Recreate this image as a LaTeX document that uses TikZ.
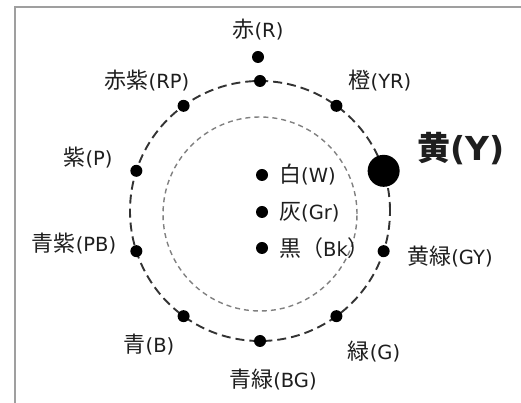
\documentclass[tikz,border=0pt]{standalone}
\usepackage{fontspec}
\setmainfont{DejaVu Sans}
\newfontfamily\cjk{Noto Sans CJK JP}
\newfontfamily\latf{DejaVu Sans}
\usetikzlibrary{calc}
\definecolor{txt}{HTML}{1E1E1E}
\tikzset{
  lbl/.style={font=\fontsize{22}{22}\selectfont, text=txt, inner sep=0pt},
  ylbl/.style={font=\bfseries\fontsize{33}{33}\selectfont, text=txt, inner sep=0pt},
  dotnode/.style={circle, fill=black, inner sep=0pt, minimum size=12pt},
  bigdot/.style={circle, fill=black, inner sep=0pt, minimum size=32pt},
}
\newcommand\kj[1]{{\cjk #1}}
\newcommand\lt[1]{{\latf\fontsize{19.5}{19.5}\selectfont #1}}
\begin{document}
\begin{tikzpicture}[x=1pt,y=1pt]
\useasboundingbox (0,0) rectangle (521,403);
\fill[white] (0,0) rectangle (521,403);
% frame
\draw[gray!75, line width=1.5pt] (521,396) -- (15,396) -- (15,0);
% circles
\coordinate (c) at (260,192);
\coordinate (ci) at (260,189);
\draw[black!50, line width=1.4pt, dash pattern=on 5pt off 4pt] (ci) circle [radius=97pt];
\draw[black!80, line width=1.9pt, dash pattern=on 9pt off 5pt] (c) circle [radius=130pt];
% hue dots
\node[dotnode] (dR)  at ($(c)+(90:130pt)$) {};
\node[dotnode] (dYR) at ($(c)+(54:130pt)$) {};
\node[bigdot]  (dY)  at ($(c)+(18:130pt)$) {};
\node[dotnode] (dGY) at ($(c)+(-18:130pt)$) {};
\node[dotnode] (dG)  at ($(c)+(-54:130pt)$) {};
\node[dotnode] (dBG) at ($(c)+(-90:130pt)$) {};
\node[dotnode] (dB)  at ($(c)+(-126:130pt)$) {};
\node[dotnode] (dPB) at ($(c)+(-162:130pt)$) {};
\node[dotnode] (dP)  at ($(c)+(162:130pt)$) {};
\node[dotnode] (dRP) at ($(c)+(126:130pt)$) {};
\node[dotnode] (dR2) at (258,346) {};
% achromatic dots
\node[dotnode] (dW)  at (262,228) {};
\node[dotnode] (dGr) at (262,191) {};
\node[dotnode] (dBk) at (262,155) {};
% labels
\node[lbl] (lR)  at (258,373) {\kj{赤}\lt{(R)}};
\node[lbl] (lRP) at (147,322) {\kj{赤紫}\lt{(RP)}};
\node[lbl] (lYR) at (380,322) {\kj{橙}\lt{(YR)}};
\node[ylbl] (lY) at (461,254) {\kj{黄}(Y)};
\node[lbl] (lP)  at (88,245) {\kj{紫}\lt{(P)}};
\node[lbl] (lPB) at (74,159) {\kj{青紫}\lt{(PB)}};
\node[lbl] (lGY) at (450,146) {\kj{黄緑}\lt{(GY)}};
\node[lbl] (lB)  at (149,58) {\kj{青}\lt{(B)}};
\node[lbl] (lG)  at (374,51) {\kj{緑}\lt{(G)}};
\node[lbl] (lBG) at (273,23) {\kj{青緑}\lt{(BG)}};
\node[lbl, anchor=west] (lW)  at (279,228) {\kj{白}\lt{(W)}};
\node[lbl, anchor=west] (lGr) at (279,191) {\kj{灰}\lt{(Gr)}};
\node[lbl, anchor=west] (lBk) at (279,155) {\kj{黒（}\lt{Bk}\kj{）}};
\end{tikzpicture}
\end{document}
